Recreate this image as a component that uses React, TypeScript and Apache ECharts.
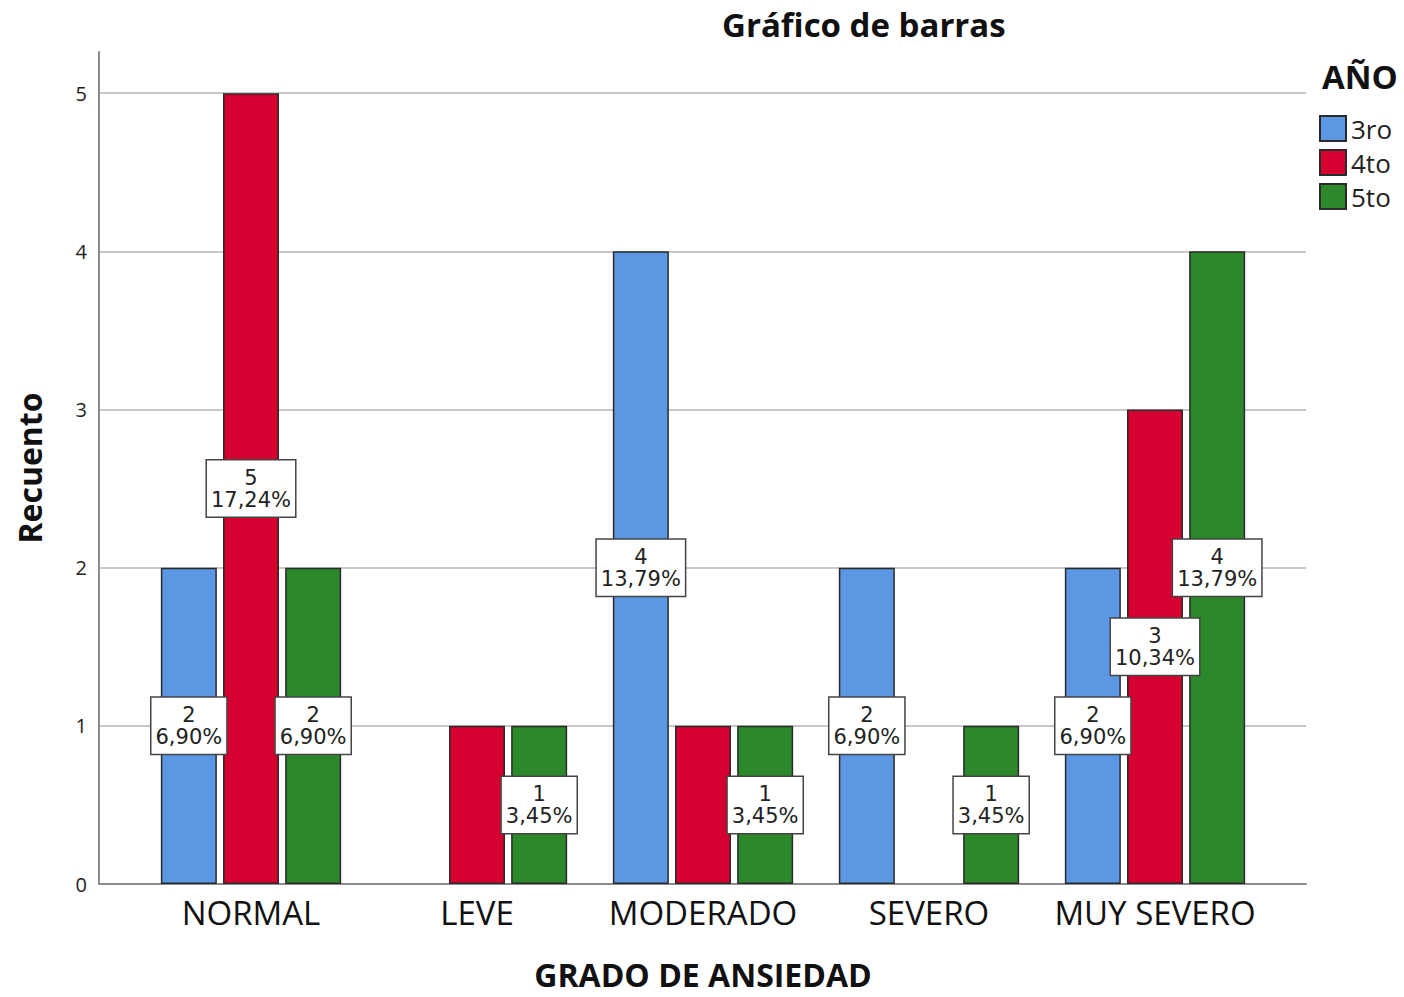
import React, { useEffect, useRef } from "react";
import * as echarts from "echarts";

const categories = ["NORMAL", "LEVE", "MODERADO", "SEVERO", "MUY SEVERO"];
const seriesNames = ["3ro", "4to", "5to"];
const values3ro: (number | null)[] = [2, null, 4, 2, 2];
const values4to: (number | null)[] = [5, 1, 1, null, 3];
const values5to: (number | null)[] = [2, 1, 1, 1, 4];
const labelShown3ro = [true, false, true, true, true];
const labelShown4to = [true, false, false, false, true];
const labelShown5to = [true, true, true, true, true];
const colors = ["#5b97e2", "#d5002f", "#2c892b"];
const yMax = 5.26;

export default function App() {
  const ref = useRef<HTMLDivElement>(null);
  useEffect(() => {
    if (!ref.current) return;
    const chart = echarts.init(ref.current, null, { renderer: "svg" });
    const allVals = [values3ro, values4to, values5to];
    const shown = [labelShown3ro, labelShown4to, labelShown5to];
    const total = allVals.flat().reduce((a: number, v) => a + (v ?? 0), 0);
    const fmt = (v: number) => ((v / total) * 100).toFixed(2).replace(".", ",") + "%";
    const series = seriesNames.map((name, si) => ({
      type: "bar",
      name,
      xAxisIndex: 1,
      yAxisIndex: 1,
      barWidth: 56,
      barGap: "11%",
      itemStyle: { color: colors[si], borderColor: "#2a2a2a", borderWidth: 1.5 },
      label: {
        position: "inside",
        formatter: (p: any) => `${p.value}\n${fmt(p.value)}`,
        backgroundColor: "#ffffff",
        borderColor: "#444",
        borderWidth: 1.5,
        padding: [6, 4],
        fontSize: 21,
        lineHeight: 22,
        color: "#222",
        fontFamily: "DejaVu Sans",
      },
      data: allVals[si].map((v, i) =>
        v == null ? "-" : { value: v, label: { show: shown[si][i] } }
      ),
    }));
    chart.setOption({
      animation: false,
      backgroundColor: "#ffffff",
      title: {
        text: "Gráfico de barras",
        left: 717,
        top: 3,
        textStyle: { fontSize: 33, fontWeight: "bold", color: "#111", fontFamily: "Open Sans" },
      },
      legend: {
        data: seriesNames,
        orient: "vertical",
        left: 1314,
        top: 110,
        itemWidth: 26,
        itemHeight: 25,
        itemGap: 7,
        icon: "rect",
        textStyle: { fontSize: 26, lineHeight: 25, color: "#222", fontFamily: "Open Sans" },
      },
      graphic: [
        {
          type: "text",
          left: 1322,
          top: 60,
          style: { text: "AÑO", fontSize: 33, fontWeight: "bold", fill: "#111", fontFamily: "Open Sans" },
        },
      ],
      grid: [
        { left: 99, right: 98, top: 52, bottom: 113, outerBoundsMode: "none", containLabel: false },
        { left: 138, right: 136, top: 52, bottom: 113, outerBoundsMode: "none", containLabel: false },
      ],
      xAxis: [
        {
          type: "value",
          gridIndex: 0,
          min: 0,
          max: 1,
          axisLine: { show: true, lineStyle: { color: "#8c8c8c", width: 2 } },
          axisTick: { show: false },
          axisLabel: { show: false },
          splitLine: { show: false },
        },
        {
          type: "category",
          gridIndex: 1,
          data: categories,
          axisLine: { show: false },
          axisTick: { show: false },
          axisLabel: { interval: 0, fontSize: 33, color: "#111", margin: 12, fontFamily: "Open Sans" },
          name: "GRADO DE ANSIEDAD",
          nameLocation: "middle",
          nameGap: 74,
          nameTextStyle: { fontSize: 32, lineHeight: 32, fontWeight: "bold", color: "#111", fontFamily: "Open Sans" },
        },
      ],
      yAxis: [
        {
          type: "value",
          gridIndex: 0,
          min: 0,
          max: yMax,
          interval: 1,
          axisLine: { show: true, lineStyle: { color: "#8c8c8c", width: 2 } },
          axisTick: { show: false },
          axisLabel: { fontSize: 20, color: "#222", margin: 12, showMaxLabel: false, fontFamily: "Open Sans" },
          splitLine: { show: true, showMaxLine: false, lineStyle: { color: "#c8c8c8", width: 2 } },
          name: "Recuento",
          nameLocation: "middle",
          nameRotate: 90,
          nameGap: 54,
          nameTextStyle: { fontSize: 32, fontWeight: "bold", color: "#111", fontFamily: "Open Sans" },
        },
        {
          type: "value",
          gridIndex: 1,
          min: 0,
          max: yMax,
          show: false,
          splitLine: { show: false },
        },
      ],
      series,
    });
    return () => chart.dispose();
  }, []);
  return (
    <div
      ref={ref}
      style={{ position: "absolute", left: 0, top: 0, width: 1404, height: 997 }}
    />
  );
}
